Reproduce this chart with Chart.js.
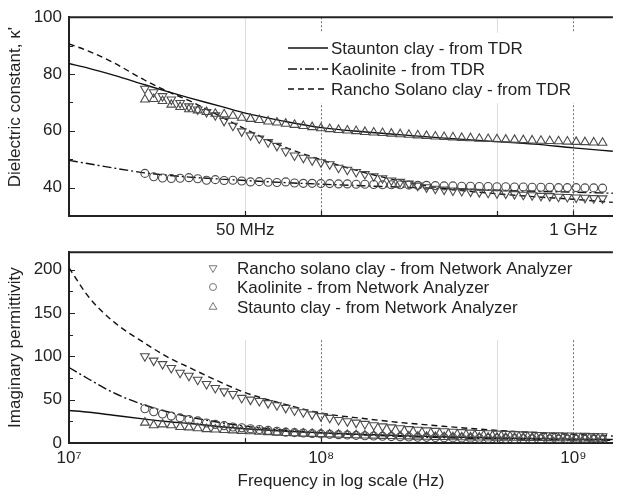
<!DOCTYPE html>
<html>
<head>
<meta charset="utf-8">
<script src="https://cdn.jsdelivr.net/npm/chart.js@4.4.1/dist/chart.umd.min.js"></script>
<style>
html,body{margin:0;padding:0;background:#fff;}
#wrap{position:relative;width:619px;height:495px;overflow:hidden;}
#c1{position:absolute;left:0;top:0;}
#c2{position:absolute;left:0;top:235px;}
</style>
</head>
<body>
<div id="wrap">
<canvas id="c1" width="619" height="235"></canvas>
<canvas id="c2" width="619" height="260"></canvas>
</div>
<script>
// ---------------- DATA ----------------
// Measured (Network Analyzer) frequencies, MHz
const markerFreqMHz = [20.00,21.67,23.49,25.45,27.58,29.89,32.39,35.10,38.04,41.22,
  44.67,48.41,52.46,56.85,61.61,66.77,72.35,78.41,84.97,92.08,
  99.77,108.1,117.2,127.0,137.6,149.1,161.6,175.1,189.8,205.7,
  222.8,241.5,261.7,283.6,307.3,333.0,360.9,391.1,423.8,459.3,
  497.7,539.4,584.5,633.4,686.4,743.8,806.1,873.5,946.6,1025.9,
  1111.7,1204.7,1305.6];

// Dielectric constant (top panel), network analyzer
const stauntonReNA = [71.0,71.2,70.5,69.2,68.4,67.6,67.2,66.6,66.0,65.8,
  65.3,64.6,64.2,63.8,63.3,62.9,62.5,62.1,61.7,61.3,
  60.9,60.6,60.3,60.1,59.9,59.6,59.4,59.2,59.0,58.8,
  58.6,58.4,58.2,58.0,57.8,57.7,57.5,57.4,57.2,57.1,
  57.0,56.9,56.8,56.7,56.6,56.5,56.4,56.3,56.2,56.1,
  56.0,55.9,55.8];
const ranchoReNA = [74.8,73.6,72.2,71.0,69.8,68.6,67.5,66.6,65.5,63.5,
  61.8,59.8,58.4,57.3,56.0,54.7,52.8,51.3,50.5,49.6,
  48.9,48.2,47.0,46.3,45.5,44.8,44.0,43.3,42.5,42.0,
  41.4,40.7,40.1,39.6,39.3,39.0,38.8,38.6,38.4,38.2,
  38.0,37.9,37.7,37.5,37.3,37.1,37.0,36.8,36.7,36.5,
  36.4,36.3,36.2];
const kaoliniteReNA = [45.0,43.8,43.4,43.2,43.3,43.5,43.1,42.6,42.8,42.5,
  42.6,42.3,42.0,42.1,41.9,41.8,42.0,41.6,41.5,41.5,
  41.4,41.4,41.3,41.3,41.2,41.2,41.1,41.0,41.0,41.0,
  40.9,40.8,40.8,40.7,40.6,40.6,40.5,40.5,40.4,40.4,
  40.3,40.3,40.2,40.2,40.1,40.1,40.1,40.0,40.0,40.0,
  39.9,39.9,39.8];

// Imaginary permittivity (bottom panel), network analyzer
const ranchoImNA = [100,95,91,86.5,81,77.5,73,68,63.5,59.5,
  56.5,52,50,48.5,46,43.5,40.5,37.5,35.5,33,
  31,29,26.5,25,23.5,22,20.5,19.2,18,17,
  16,15.2,14.5,14,13.5,13,12.5,12,11.6,11.2,
  10.8,10.5,10.2,9.9,9.6,9.3,9.0,8.8,8.6,8.4,
  8.2,8.0,7.8];
const kaoliniteImNA = [39.5,36,33.5,31,29,27,25.5,23,21.5,20,
  18.5,17.5,16.5,15.5,14.5,13.5,12.5,12,11.5,11,
  10.5,10,9.6,9.2,8.8,8.4,8.0,7.7,7.4,7.1,
  6.9,6.7,6.5,6.3,6.1,5.9,5.7,5.6,5.4,5.3,
  5.2,5.1,5.0,4.9,4.8,4.7,4.6,4.5,4.4,4.3,
  4.2,4.1,4.0];
const stauntonImNA = [23.5,20.5,21.5,20.5,18.5,18,17,16,15.5,15,
  14.5,14,13.5,13,12.5,12,11.5,11.2,10.8,10.5,
  10.2,9.9,9.6,9.3,9.0,8.7,8.5,8.2,8.0,7.8,
  7.6,7.4,7.2,7.0,6.9,6.7,6.6,6.5,6.4,6.3,
  6.2,6.1,6.0,5.9,5.8,5.7,5.6,5.5,5.4,5.3,
  5.2,5.1,5.0];

// TDR model curves
const lineFreqMHz = [10,12,15,20,25,30,40,50,70,100,150,200,300,500,700,1000,1435];
const stauntonReTDR = [83.7,82.0,79.6,76.2,73.6,71.6,68.6,66.2,63.5,61.1,59.6,58.7,57.5,56.2,55.3,54.0,52.8];
const kaoliniteReTDR = [49.6,48.4,46.9,45.2,44.3,43.7,43.0,42.5,41.8,41.2,40.6,40.2,39.7,39.1,38.7,38.4,38.0];
const ranchoReTDR = [90.6,88.0,84.0,77.8,73.6,70.6,65.0,60.6,54.6,49.8,45.2,42.6,39.8,37.8,36.8,35.9,34.8];
const ranchoImTDR = [202,168,140,115,98,87,70,58,45.5,34.5,28,24,19.5,14.5,12,10,8];
const kaoliniteImTDR = [87,73.5,58,43.5,35.5,30,23.5,19.5,15,11.8,9.2,7.8,6.2,4.8,4.2,3.6,3.1];
const stauntonImTDR = [37.5,35.5,32,27.5,24.5,22.5,18.8,16.5,13.8,11.7,9.8,8.7,7.2,5.8,5.1,4.5,4.0];

// Tick labels
const topXTickValues = [5e7, 1e9];
const topXTickLabels = ['50 MHz', '1 GHz'];
const botXTickValues = [1e7, 1e8, 1e9];
const botXTickLabels = ['10\u2077', '10\u2078', '10\u2079'];
const topYTicks = [40, 60, 80, 100];
const topYMinor = [50, 70, 90];
const botYTicks = [0, 50, 100, 150, 200];
const botYMinor = [25, 75, 125, 175];

const topLegend = ['Staunton clay - from TDR', 'Kaolinite - from TDR', 'Rancho Solano clay - from TDR'];
const botLegend = ['Rancho solano clay - from Network Analyzer', 'Kaolinite - from Network Analyzer', 'Staunto clay - from Network Analyzer'];

// ---------------- HELPERS ----------------
const FONT = '"Liberation Sans", Arial, sans-serif';
const FS = 17;
const TXT = '#222';
const MK = '#4a4a4a';
const pts = (fr, ys) => fr.map((f, i) => ({x: f * 1e6, y: ys[i]}));

function markerSet(label, data, style, rot, r) {
  return {label, data: pts(markerFreqMHz, data), showLine: false,
    pointStyle: style, pointRotation: rot, pointRadius: r, pointHoverRadius: r,
    pointBorderColor: MK, pointBackgroundColor: 'rgba(255,255,255,0)', pointBorderWidth: 1.1};
}
function lineSet(label, data, dash) {
  return {label, data: pts(lineFreqMHz, data), showLine: true, pointRadius: 0,
    borderColor: '#111', borderWidth: 1.4, borderDash: dash,
    tension: 0.4, cubicInterpolationMode: 'monotone', fill: false};
}

const deco = {
  id: 'deco',
  beforeDatasetsDraw(chart, args, o) {
    const {ctx, chartArea: a} = chart;
    const xs = chart.scales.x, ys = chart.scales.y;
    ctx.save();
    // vertical grid lines
    for (const g of o.vlines) {
      const px = Math.round(xs.getPixelForValue(g.value)) + 0.5;
      ctx.beginPath();
      ctx.lineWidth = 1;
      ctx.strokeStyle = g.dark ? '#707070' : '#dddddd';
      ctx.setLineDash(g.dark ? [2, 2] : []);
      ctx.moveTo(px, a.top); ctx.lineTo(px, a.bottom);
      ctx.stroke();
    }
    ctx.setLineDash([]);
    // legend background
    const b = o.legend.box;
    ctx.fillStyle = '#fff';
    ctx.fillRect(b.x, b.y, b.w, b.h);
    // inward ticks
    ctx.strokeStyle = TXT; ctx.lineWidth = 1.2;
    ctx.beginPath();
    for (const v of o.yMajor) { const py = Math.round(ys.getPixelForValue(v)) + 0.5; ctx.moveTo(a.left, py); ctx.lineTo(a.left + 6, py); }
    for (const v of o.yMinor) { const py = Math.round(ys.getPixelForValue(v)) + 0.5; ctx.moveTo(a.left, py); ctx.lineTo(a.left + 4, py); }
    for (const v of o.xMajor) { const px = Math.round(xs.getPixelForValue(v)) + 0.5; ctx.moveTo(px, a.bottom); ctx.lineTo(px, a.bottom - 5); }
    ctx.stroke();
    // top frame line
    ctx.beginPath(); ctx.lineWidth = 2;
    ctx.moveTo(a.left, a.top); ctx.lineTo(a.right, a.top); ctx.stroke();
    // legend content
    ctx.font = FS + 'px ' + FONT;
    ctx.fillStyle = TXT; ctx.textBaseline = 'middle'; ctx.textAlign = 'left';
    const L = o.legend;
    L.items.forEach((it, i) => {
      const y = L.rows[i];
      if (it.kind === 'line') {
        ctx.beginPath(); ctx.strokeStyle = '#111'; ctx.lineWidth = 1.4;
        ctx.setLineDash(it.dash);
        ctx.moveTo(L.sx0, y); ctx.lineTo(L.sx1, y); ctx.stroke();
        ctx.setLineDash([]);
      } else {
        ctx.strokeStyle = '#777'; ctx.fillStyle = 'rgba(255,255,255,0)'; ctx.lineWidth = 1;
        Chart.helpers.drawPoint(ctx, {pointStyle: it.style, rotation: it.rot, radius: it.r, borderWidth: 1}, L.mx, y);
      }
      ctx.fillStyle = TXT;
      ctx.fillText(it.text, L.tx, y + 1);
    });
    ctx.restore();
  }
};

function baseOptions(o) {
  return {
    responsive: false, animation: false, devicePixelRatio: 1,
    layout: {padding: {left: 0, right: 0, top: o.padTop, bottom: 0}},
    plugins: {legend: {display: false}, tooltip: {enabled: false}, deco: o.deco},
    scales: {
      x: {type: 'logarithmic', min: 1e7, max: 1.435e9,
        grid: {display: false, drawTicks: false},
        border: {display: true, color: TXT, width: 2},
        afterBuildTicks: s => { s.ticks = o.xTickValues.map(v => ({value: v})); },
        afterFit: s => { s.height = o.xHeight; s.paddingLeft = 0; s.paddingRight = 0; },
        ticks: {autoSkip: false, maxRotation: 0, padding: o.xPad, color: TXT, font: {family: FONT, size: FS},
          callback: (v, i) => o.xTickLabels[i]},
        title: o.xTitle
      },
      y: {type: 'linear', min: o.yMin, max: o.yMax,
        grid: {display: false, drawTicks: false},
        border: {display: true, color: TXT, width: 2},
        afterBuildTicks: s => { s.ticks = o.yTicks.map(v => ({value: v})); },
        afterFit: s => { s.width = 69; },
        ticks: {padding: 7, color: TXT, font: {family: FONT, size: FS}},
        title: {display: true, text: o.yTitle, color: TXT, font: {family: FONT, size: FS}, padding: {top: 5, bottom: 0}}
      }
    }
  };
}

// ---------------- TOP CHART ----------------
new Chart(document.getElementById('c1'), {
  type: 'scatter',
  data: {datasets: [
    markerSet('Staunton clay - NA', stauntonReNA, 'triangle', 0, 5),
    markerSet('Rancho solano clay - NA', ranchoReNA, 'triangle', 180, 5),
    markerSet('Kaolinite - NA', kaoliniteReNA, 'circle', 0, 4),
    lineSet(topLegend[0], stauntonReTDR, []),
    lineSet(topLegend[1], kaoliniteReTDR, [9, 3, 2, 3]),
    lineSet(topLegend[2], ranchoReTDR, [6, 4])
  ]},
  options: baseOptions({
    padTop: 15, xHeight: 19, xPad: 4, yMin: 30, yMax: 100, yTicks: topYTicks,
    xTickValues: topXTickValues, xTickLabels: topXTickLabels,
    xTitle: {display: false},
    yTitle: "    Dielectric constant, \u03BA'",
    deco: {
      vlines: [{value: 5e7, dark: false}, {value: 1e8, dark: true}, {value: 5e8, dark: false}, {value: 1e9, dark: true}],
      yMajor: topYTicks, yMinor: topYMinor, xMajor: [5e7, 1e8, 5e8, 1e9],
      legend: {box: {x: 280, y: 33, w: 339, h: 70}, sx0: 288, sx1: 328, tx: 331, rows: [48, 69, 89],
        items: [{kind: 'line', dash: [], text: topLegend[0]},
                {kind: 'line', dash: [9, 3, 2, 3], text: topLegend[1]},
                {kind: 'line', dash: [6, 4], text: topLegend[2]}]}
    }
  }),
  plugins: [deco]
});

// ---------------- BOTTOM CHART ----------------
new Chart(document.getElementById('c2'), {
  type: 'scatter',
  data: {datasets: [
    markerSet(botLegend[0], ranchoImNA, 'triangle', 180, 5),
    markerSet(botLegend[1], kaoliniteImNA, 'circle', 0, 4),
    markerSet(botLegend[2], stauntonImNA, 'triangle', 0, 5),
    lineSet('Rancho TDR', ranchoImTDR, [6, 4]),
    lineSet('Kaolinite TDR', kaoliniteImTDR, [9, 3, 2, 3]),
    lineSet('Staunton TDR', stauntonImTDR, [])
  ]},
  options: baseOptions({
    padTop: 8, xHeight: 52, xPad: 5, yMin: 0, yMax: 220, yTicks: botYTicks,
    xTickValues: botXTickValues, xTickLabels: botXTickLabels,
    xTitle: {display: true, text: 'Frequency in log scale (Hz)', color: TXT, font: {family: FONT, size: FS}, padding: {top: 0, bottom: 3}},
    yTitle: 'Imaginary permittivity',
    deco: {
      vlines: [{value: 5e7, dark: false}, {value: 1e8, dark: true}, {value: 5e8, dark: false}, {value: 1e9, dark: true}],
      yMajor: botYTicks, yMinor: botYMinor, xMajor: [5e7, 1e8, 5e8, 1e9],
      legend: {box: {x: 198, y: 15, w: 410, h: 90}, mx: 213, tx: 237, rows: [33, 52, 72],
        items: [{kind: 'marker', style: 'triangle', rot: 180, r: 4.5, text: botLegend[0]},
                {kind: 'marker', style: 'circle', rot: 0, r: 3.5, text: botLegend[1]},
                {kind: 'marker', style: 'triangle', rot: 0, r: 4.5, text: botLegend[2]}]}
    }
  }),
  plugins: [deco]
});
</script>
</body>
</html>
